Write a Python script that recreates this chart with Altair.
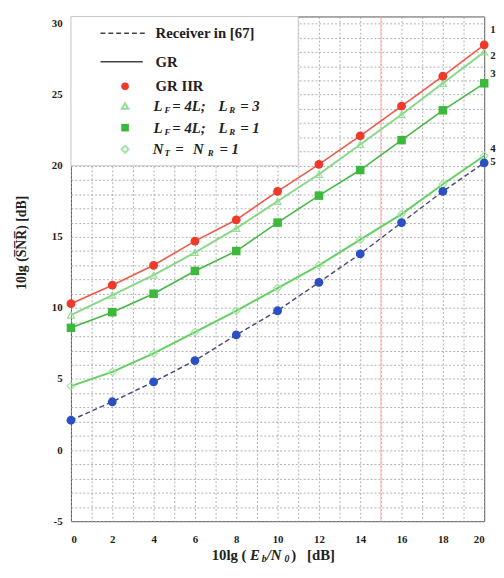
import altair as alt
import pandas as pd

# ---- data ----
x_vals = [0, 2, 4, 6, 8, 10, 12, 14, 16, 18, 20]
gr_iir = [10.3, 11.6, 13.0, 14.7, 16.2, 18.2, 20.1, 22.1, 24.2, 26.3, 28.5]
lf4_lr3 = [9.5, 10.9, 12.3, 13.9, 15.6, 17.5, 19.4, 21.5, 23.6, 25.8, 28.0]
lf4_lr1 = [8.6, 9.7, 11.0, 12.6, 14.0, 16.0, 17.9, 19.7, 21.8, 23.9, 25.8]
nt_nr1 = [4.5, 5.5, 6.8, 8.3, 9.8, 11.4, 13.0, 14.8, 16.6, 18.7, 20.7]
receiver67 = [2.1, 3.4, 4.8, 6.3, 8.1, 9.8, 11.8, 13.8, 16.0, 18.2, 20.2]
curve_ids = ["1", "2", "3", "4", "5"]

SERIF = "Liberation Serif"

x_axis = alt.Axis(values=list(range(0, 21)), labelExpr="datum.value % 2 == 0 ? datum.label : ''",
                  title=None, grid=True, ticks=False, domain=False, labelOverlap=False,
                  labelFont=SERIF, labelFontSize=11, labelFontWeight="bold", labelColor="#222",
                  labelPadding=13, gridColor="#9c9c9c", gridDash=[2, 2], gridWidth=0.8)
y_axis = alt.Axis(values=list(range(-5, 31)),
                  labelExpr="datum.value % 5 == 0 ? replace(datum.label, '\u2212', '-') : ''",
                  title=None, grid=True, ticks=False, domain=False, labelOverlap=False,
                  labelFont=SERIF, labelFontSize=11, labelFontWeight="bold", labelColor="#222",
                  labelPadding=9, gridColor="#9c9c9c", gridDash=[2, 2], gridWidth=0.8)
xs = alt.Scale(domain=[0, 20], nice=False, zero=False)
ys = alt.Scale(domain=[-5, 30.5], nice=False, zero=False)

X = alt.X("x:Q", scale=xs, axis=x_axis)
Y = alt.Y("y:Q", scale=ys, axis=y_axis)


def frame(vals):
    return pd.DataFrame({"x": x_vals, "y": vals})


def line_layer(vals, color, width, dash=None):
    kw = dict(color=color, strokeWidth=width)
    if dash:
        kw["strokeDash"] = dash
    return alt.Chart(frame(vals)).mark_line(**kw).encode(x=X, y=Y)


def point_layer(vals, shape, filled, color, size, sw=1.2):
    return alt.Chart(frame(vals)).mark_point(shape=shape, filled=filled, color=color, size=size,
                                             strokeWidth=sw, opacity=1).encode(x=X, y=Y)


one = pd.DataFrame({"a": [0]})


def txt(s, px, py, size=15, italic=False, angle=0, align="left", color="#222", weight="bold"):
    kw = dict(text=s, align=align, baseline="middle", font=SERIF, fontSize=size,
              fontWeight=weight, color=color)
    if italic:
        kw["fontStyle"] = "italic"
    if angle:
        kw["angle"] = angle
    return alt.Chart(one).mark_text(**kw).encode(x=alt.value(px), y=alt.value(py))


layers = []
layers.append(line_layer(receiver67, "#4b4b7d", 1.5, dash=[5, 3]))
# pink vertical line
layers.append(alt.Chart(pd.DataFrame({"x": [15]})).mark_rule(color="#f3b8b8", strokeWidth=1).encode(x=X))
# legend box
layers.append(alt.Chart(pd.DataFrame({"x": [0], "x2": [11], "y": [20], "y2": [30.5]})).mark_rect(
    fill="white", stroke="#c8c8c8", strokeWidth=1).encode(x=X, x2="x2:Q", y=Y, y2="y2:Q"))

layers.append(line_layer(nt_nr1, "#62d062", 2.0))
layers.append(line_layer(lf4_lr1, "#44b844", 1.6))
layers.append(line_layer(lf4_lr3, "#86d886", 2.0))
layers.append(line_layer(gr_iir, "#f05848", 1.6))

layers.append(point_layer(nt_nr1, "diamond", False, "#a4e4a4", 60))
layers.append(point_layer(receiver67, "circle", True, "#2b4fc4", 80))
layers.append(point_layer(lf4_lr1, "square", True, "#3cb83c", 75))
layers.append(point_layer(lf4_lr3, "triangle-up", False, "#96de96", 50))
layers.append(point_layer(gr_iir, "circle", True, "#ee3a2a", 80))

# legend samples
layers.append(alt.Chart(one).mark_rule(color="#444", strokeWidth=1.5, strokeDash=[5, 3]).encode(
    x=alt.value(30), x2=alt.value(75), y=alt.value(17)))
layers.append(alt.Chart(one).mark_rule(color="#444", strokeWidth=1.5).encode(
    x=alt.value(30), x2=alt.value(73), y=alt.value(46)))
layers.append(alt.Chart(one).mark_point(shape="circle", filled=True, color="#ee3a2a", size=60, opacity=1).encode(
    x=alt.value(55), y=alt.value(71)))
layers.append(alt.Chart(one).mark_point(shape="triangle-up", filled=False, color="#96de96", size=45, opacity=1).encode(
    x=alt.value(55), y=alt.value(91)))
layers.append(alt.Chart(one).mark_point(shape="square", filled=True, color="#3cb83c", size=60, opacity=1).encode(
    x=alt.value(55), y=alt.value(113)))
layers.append(alt.Chart(one).mark_point(shape="diamond", filled=False, color="#a4e4a4", size=50, opacity=1).encode(
    x=alt.value(55), y=alt.value(135)))

layers.append(txt("Receiver in [67]", 86, 17))
layers.append(txt("GR", 86, 46))
layers.append(txt("GR IIR", 86, 71))
# L_F = 4L; L_R = 3 / 1
for y, last in [(91, "= 3"), (113, "= 1")]:
    layers.append(txt("L", 84, y, italic=True))
    layers.append(txt("F", 95, y + 4, size=9, italic=True))
    layers.append(txt("= 4L;", 103, y, italic=True))
    layers.append(txt("L", 150, y, italic=True))
    layers.append(txt("R", 161, y + 4, size=9, italic=True))
    layers.append(txt(last, 172, y, italic=True))
# N_T = N_R = 1
layers.append(txt("N", 83, 135, italic=True))
layers.append(txt("T", 95, 139, size=9, italic=True))
layers.append(txt("=", 106, 135, italic=True))
layers.append(txt("N", 124, 135, italic=True))
layers.append(txt("R", 139, 139, size=9, italic=True))
layers.append(txt("= 1", 151, 135, italic=True))

# curve labels on the right
for cid, py in zip(curve_ids, [14, 40, 59, 135, 148]):
    layers.append(txt(cid, 429, py, size=11, align="center"))

# y title
layers.append(txt("10lg (S\u0305N\u0305R\u0305)  [dB]", -50, 230, size=14, angle=270, align="center"))
# x title pieces
TY = 547
layers.append(txt("10lg (", 143, TY))
layers.append(txt("E", 182, TY, italic=True))
layers.append(txt("b", 194, TY + 4, size=10, italic=True))
layers.append(txt("/N", 199, TY, italic=True))
layers.append(txt("0", 217, TY + 4, size=10, italic=True))
layers.append(txt(")", 224, TY))
layers.append(txt("[dB]", 240, TY))

chart = alt.layer(*layers).properties(
    width=420, height=513,
    autosize=alt.AutoSizeParams(type="none"),
    padding={"left": 64, "top": 4, "right": 12, "bottom": 45},
    background="white",
).configure_view(stroke="#555", strokeWidth=1)

chart.save("out.html", embed_options={"renderer": "svg", "actions": False})
